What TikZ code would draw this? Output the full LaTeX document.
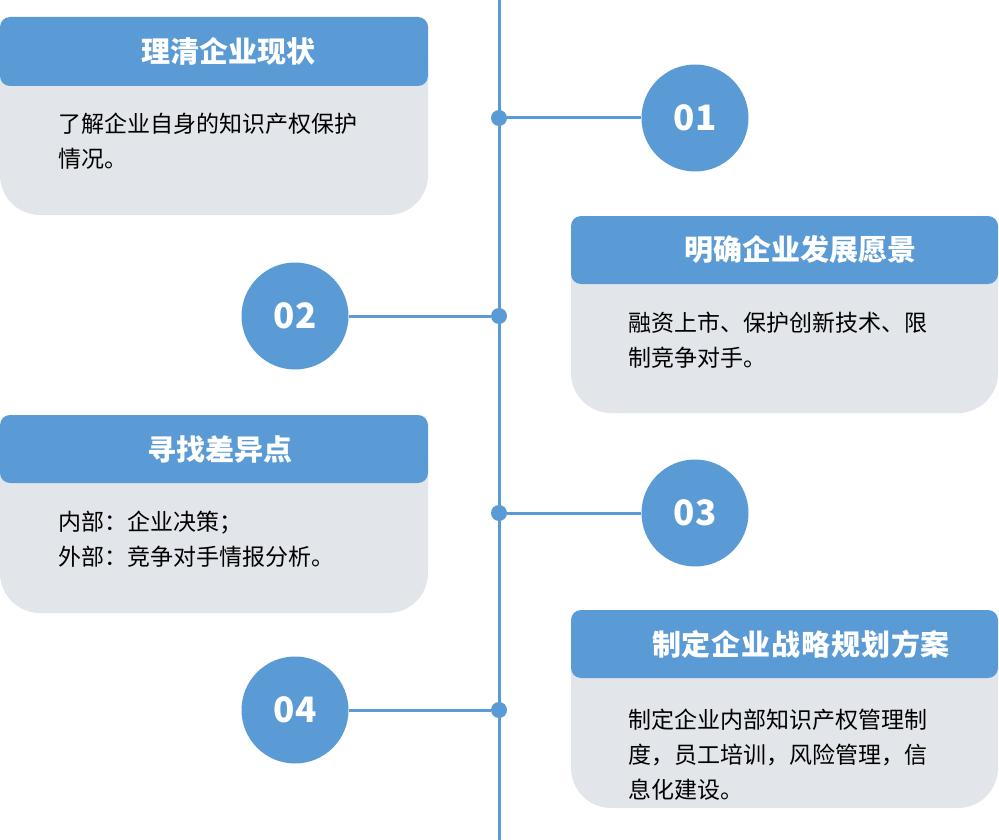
\documentclass[tikz,border=0pt]{standalone}
\usepackage{fontspec}
\usepackage{xcolor}
\usepackage{tikz}
\setmainfont{Noto Sans CJK SC}
\definecolor{scheme}{HTML}{5B9BD5}
\definecolor{cardgray}{HTML}{E2E6EA}

\begin{document}
\begin{tikzpicture}[x=1pt,y=-1pt,
	card/.style={fill=cardgray,rounded corners=40},
	cardhead/.style={fill=scheme,rounded corners=10},
	title/.style={text=white,inner sep=0,font=\bfseries\fontsize{29}{34}\selectfont},
	body/.style={anchor=north west,align=left,inner sep=0,text=black,font=\fontsize{23}{35}\selectfont},
	num/.style={circle,fill=scheme,minimum size=107,inner sep=0,text=white,font=\bfseries\fontsize{35}{40}\selectfont},
	dot/.style={circle,fill=scheme,minimum size=16,inner sep=0}]
					\useasboundingbox (0,0) rectangle (999,840);
					\coordinate (top) at (499,0);
					\coordinate (bottom) at (499,840);
					
					% cards
					\fill[card] (0,17) rectangle (428,215);
					\fill[cardhead] (0,17) rectangle (428,86);
					\fill[card] (571,216) rectangle (998,413);
					\fill[cardhead] (571,216) rectangle (998,284);
					\fill[card] (0,415) rectangle (428,613);
					\fill[cardhead] (0,415) rectangle (428,483);
					\fill[card] (571,610) rectangle (998,808);
					\fill[cardhead] (571,610) rectangle (998,678);
					
					\node[title] (t1) at (228,51) {理清企业现状};
					\node[title] (t2) at (800,250) {明确企业发展愿景};
					\node[title] (t3) at (220,449) {寻找差异点};
					\node[title] (t4) at (801,644) {\addfontfeature{LetterSpace=3}制定企业战略规划方案};
					
					\node[body] (b1) at (58,113) {了解企业自身的知识产权保护\\情况。};
					\node[body] (b2) at (628,312) {融资上市、保护创新技术、限\\制竞争对手。};
					\node[body] (b3) at (58,511) {内部：企业决策；\\外部：竞争对手情报分析。};
					\node[body] (b4) at (628,709) {制定企业内部知识产权管理制\\度，员工培训，风险管理，信\\息化建设。};
					
					% timeline
					\draw[scheme,line width=3] (top) -- (bottom);
					\node[dot] (d1) at (499,118) {};
					\node[dot] (d2) at (499,316) {};
					\node[dot] (d3) at (499,513) {};
					\node[dot] (d4) at (499,710) {};
					\node[num] (n1) at (695,118) {01};
					\node[num] (n2) at (295,316) {02};
					\node[num] (n3) at (695,513) {03};
					\node[num] (n4) at (295,710) {04};
					\draw[scheme,line width=3] (d1) -- (n1);
					\draw[scheme,line width=3] (d2) -- (n2);
					\draw[scheme,line width=3] (d3) -- (n3);
					\draw[scheme,line width=3] (d4) -- (n4);
\end{tikzpicture}
\end{document}
